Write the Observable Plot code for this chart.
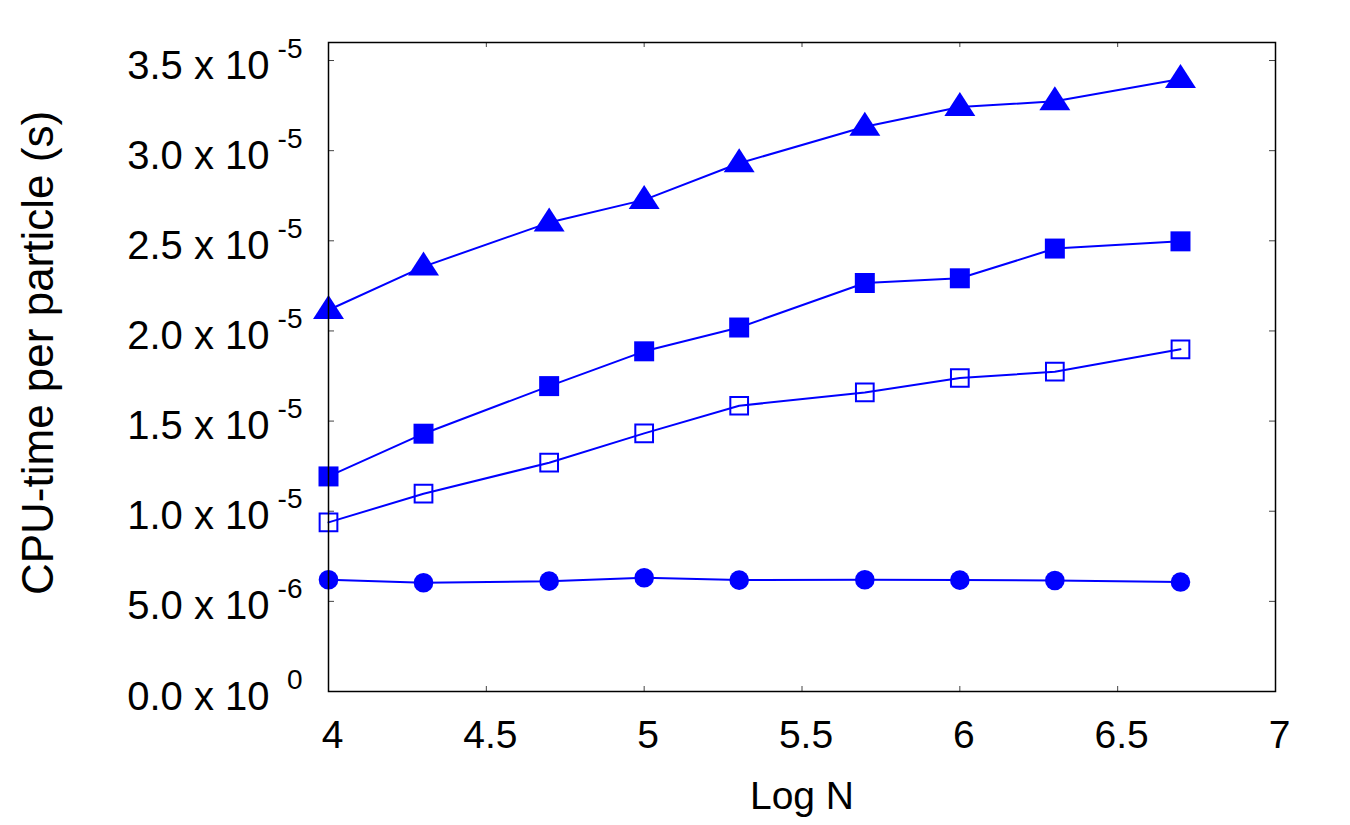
<!DOCTYPE html>
<html><head><meta charset="utf-8">
<script src="https://cdn.jsdelivr.net/npm/d3@7"></script>
<script src="https://cdn.jsdelivr.net/npm/@observablehq/plot@0.6"></script>
<style>html,body{margin:0;padding:0;background:#fff}</style>
</head><body><div id="chart"></div>
<script>
// ---- data ----
const logN = [4, 4.301, 4.699, 5, 5.301, 5.699, 6, 6.301, 6.699];
const triangles     = [2.116e-5, 2.357e-5, 2.601e-5, 2.727e-5, 2.930e-5, 3.133e-5, 3.242e-5, 3.274e-5, 3.397e-5];
const filledSquares = [1.193e-5, 1.430e-5, 1.694e-5, 1.887e-5, 2.019e-5, 2.266e-5, 2.292e-5, 2.457e-5, 2.497e-5];
const openSquares   = [0.938e-5, 1.097e-5, 1.269e-5, 1.432e-5, 1.585e-5, 1.659e-5, 1.739e-5, 1.774e-5, 1.898e-5];
const circles       = [0.620e-5, 0.603e-5, 0.612e-5, 0.631e-5, 0.618e-5, 0.620e-5, 0.618e-5, 0.616e-5, 0.607e-5];

const xTicks = [4, 4.5, 5, 5.5, 6, 6.5, 7];
const xTickLabels = ["4", "4.5", "5", "5.5", "6", "6.5", "7"];
const yTicks = [0, 0.5e-5, 1.0e-5, 1.5e-5, 2.0e-5, 2.5e-5, 3.0e-5, 3.5e-5];
const yTickMantissa = ["0.0 x 10", "5.0 x 10", "1.0 x 10", "1.5 x 10", "2.0 x 10", "2.5 x 10", "3.0 x 10", "3.5 x 10"];
const yTickExponent = ["0", "-6", "-5", "-5", "-5", "-5", "-5", "-5"];
const xLabel = "Log N";
const yLabel = "CPU-time per particle (s)";

// ---- layout / style ----
const W = 1350, H = 825, mL = 328, mR = 75, mT = 42, mB = 134;
const plotW = W - mL - mR, plotH = H - mT - mB;
const blue = "#0000ff";
const font = "'Liberation Sans', Arial, Helvetica, sans-serif";

const triangleSymbol = {
  draw(ctx, size) {
    const r = Math.sqrt(size / Math.PI);
    ctx.moveTo(0, -1.25 * r);
    ctx.lineTo(1.29 * r, 0.75 * r);
    ctx.lineTo(-1.29 * r, 0.75 * r);
    ctx.closePath();
  }
};

const toRows = vals => logN.map((x, i) => ({x, y: vals[i]}));

const series = [
  {rows: toRows(triangles), dot: {symbol: triangleSymbol, r: 12, fill: blue, stroke: "none"}},
  {rows: toRows(filledSquares), dot: {symbol: "square", r: 11.28, fill: blue, stroke: "none"}},
  {rows: toRows(openSquares), dot: {symbol: "square", r: 10, fill: "none", stroke: blue, strokeWidth: 2}},
  {rows: toRows(circles), dot: {symbol: "circle", r: 9.8, fill: blue, stroke: "none"}}
];

const marks = [];
// inner ticks (mirrored on all sides)
marks.push(Plot.tickY(yTicks, {y: d => d, insetRight: plotW - 6, stroke: "#444", strokeWidth: 1}));
marks.push(Plot.tickY(yTicks, {y: d => d, insetLeft: plotW - 6, stroke: "#444", strokeWidth: 1}));
marks.push(Plot.tickX(xTicks, {x: d => d, insetTop: plotH - 5, stroke: "#444", strokeWidth: 1}));
marks.push(Plot.tickX(xTicks, {x: d => d, insetBottom: plotH - 5, stroke: "#444", strokeWidth: 1}));

for (const s of series) {
  marks.push(Plot.line(s.rows, {x: "x", y: "y", stroke: blue, strokeWidth: 2}));
}
for (const s of series) {
  marks.push(Plot.dot(s.rows, {x: "x", y: "y", ...s.dot}));
}
marks.push(Plot.frame({stroke: "black", strokeWidth: 1.5}));

// y tick labels: mantissa + superscript exponent
marks.push(Plot.text(yTicks, {y: d => d, text: (d, i) => yTickMantissa[i], frameAnchor: "left",
  textAnchor: "end", lineAnchor: "bottom", dx: -59, dy: 18, fontSize: 40, fill: "black"}));
marks.push(Plot.text(yTicks, {y: d => d, text: (d, i) => yTickExponent[i], frameAnchor: "left",
  textAnchor: "end", lineAnchor: "bottom", dx: -26, dy: -3, fontSize: 28, fill: "black"}));
// x tick labels
marks.push(Plot.text(xTicks, {x: d => d, text: (d, i) => xTickLabels[i], frameAnchor: "bottom",
  lineAnchor: "bottom", dx: 4, dy: 56, fontSize: 39, fill: "black"}));
// axis titles
marks.push(Plot.text([xLabel], {text: d => d, frameAnchor: "bottom", lineAnchor: "bottom",
  dy: 117, fontSize: 39, fill: "black"}));
marks.push(Plot.text([yLabel], {text: d => d, frameAnchor: "left", rotate: -90, lineAnchor: "bottom",
  textAnchor: "middle", dx: -276, dy: -14, fontSize: 44, fill: "black"}));

const chart = Plot.plot({
  width: W, height: H,
  marginLeft: mL, marginRight: mR, marginTop: mT, marginBottom: mB,
  x: {domain: [4, 7], axis: null},
  y: {domain: [0, 3.6e-5], axis: null},
  style: {fontFamily: font, background: "white", color: "black", overflow: "visible"},
  marks
});
document.getElementById("chart").appendChild(chart);
</script>
</body></html>
